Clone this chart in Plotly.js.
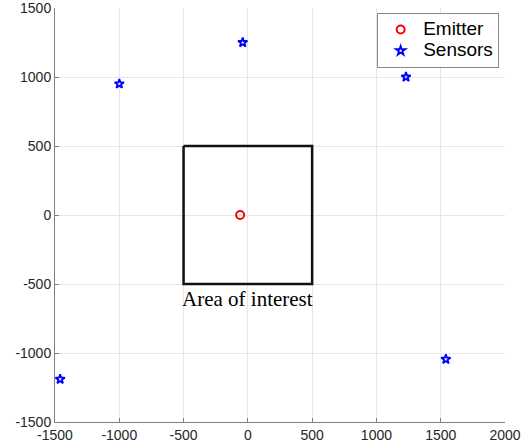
<!DOCTYPE html>
<html>
<head>
<meta charset="utf-8">
<script src="https://cdn.plot.ly/plotly-3.0.1.min.js"></script>
<style>html,body{margin:0;padding:0;background:#fff;}#chart{width:522px;height:448px;}</style>
</head>
<body>
<div id="chart"></div>
<script>
const emitterX = [-60];
const emitterY = [0];
const sensorX = [-1000, -40, 1230, 1540, -1460];
const sensorY = [950, 1250, 1000, -1045, -1190];
const areaX = [-500, 500, 500, -500, -500];
const areaY = [500, 500, -500, -500, 500];
const seriesNames = ['Emitter', 'Sensors'];
const areaLabel = 'Area of interest';
const xTicks = [-1500, -1000, -500, 0, 500, 1000, 1500, 2000];
const yTicks = [-1500, -1000, -500, 0, 500, 1000, 1500];

const big = s => '<span style="font-size:19px">' + s + '</span>';

const traces = [
  {x: areaX, y: areaY, mode: 'lines', line: {color: '#111', width: 2.5}, showlegend: false, hoverinfo: 'skip'},
  {x: emitterX, y: emitterY, mode: 'markers', name: big(seriesNames[0]),
   marker: {symbol: 'circle-open', size: 8, color: '#ff0000', line: {width: 2, color: '#ff0000'}}},
  {x: sensorX, y: sensorY, mode: 'markers', name: big(seriesNames[1]),
   marker: {symbol: 'star-open', size: 7, color: '#0000ff', line: {width: 1.8, color: '#0000ff'}}}
];

const axisCommon = {
  showline: true, linecolor: '#7f7f7f', linewidth: 1,
  ticks: 'inside', ticklen: 4, tickcolor: '#7f7f7f',
  showgrid: true, gridcolor: '#e6e6e6', gridwidth: 1,
  zeroline: false, mirror: false, ticklabeloverflow: 'allow',
  tickfont: {family: 'Liberation Sans, Arial, sans-serif', size: 14, color: '#262626'}
};

const layout = {
  width: 522, height: 448,
  margin: {l: 55, r: 17, t: 8, b: 26},
  paper_bgcolor: '#fff', plot_bgcolor: '#fff',
  xaxis: Object.assign({}, axisCommon, {range: [-1500, 2000], tickvals: xTicks, ticktext: xTicks.map(String)}),
  yaxis: Object.assign({}, axisCommon, {range: [-1500, 1500], tickvals: yTicks, ticktext: yTicks.map(String)}),
  legend: {x: 0.987, xanchor: 'right', y: 0.988, yanchor: 'top',
    bgcolor: '#fff', bordercolor: '#8a8a8a', borderwidth: 1,
    font: {family: 'Liberation Sans, Arial, sans-serif', size: 14, color: '#000'},
    itemwidth: 35, tracegroupgap: 0},
  annotations: [{x: 0, y: areaY[2], xref: 'x', yref: 'y', text: areaLabel, showarrow: false,
    yanchor: 'top', yshift: -1, font: {family: 'Liberation Serif, Times New Roman, serif', size: 21, color: '#000'}}],
  showlegend: true
};

Plotly.newPlot('chart', traces, layout, {staticPlot: true, displayModeBar: false});
</script>
</body>
</html>
